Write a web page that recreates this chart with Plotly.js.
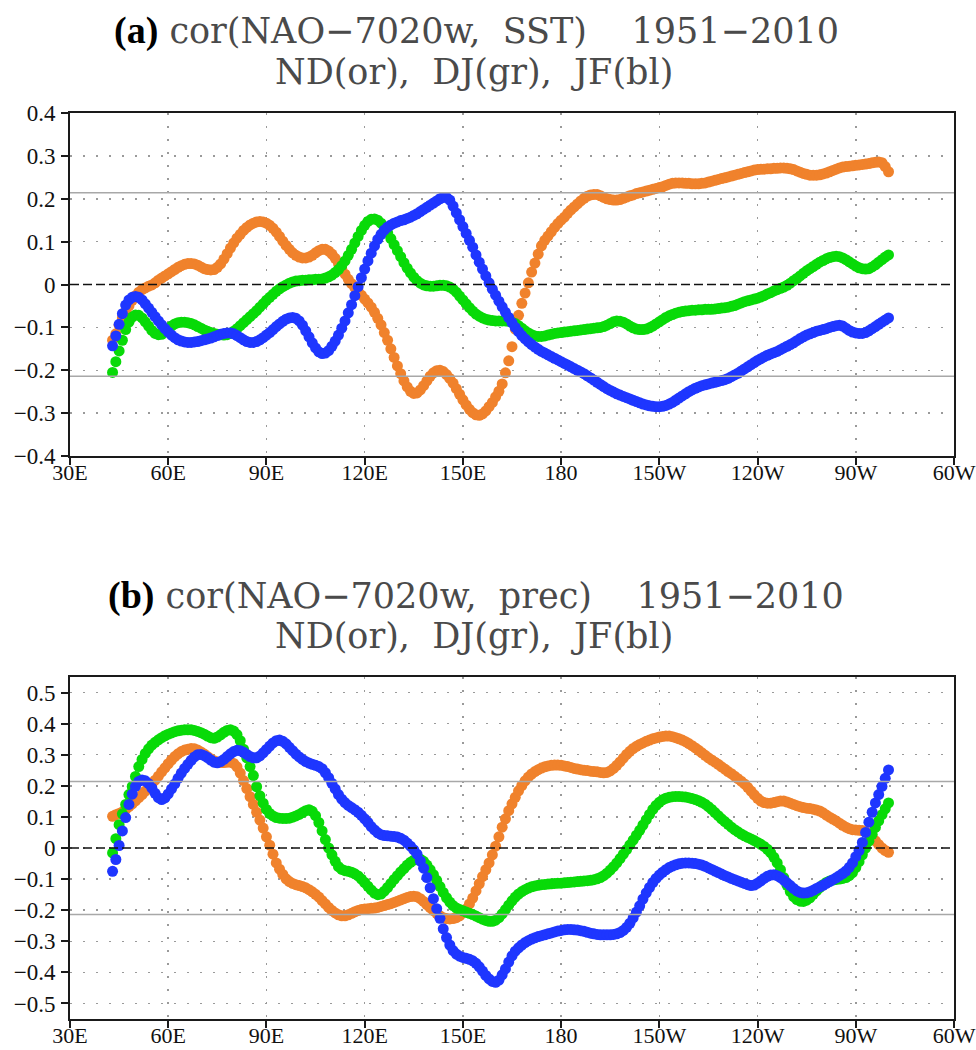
<!DOCTYPE html>
<html>
<head>
<meta charset="utf-8">
<script src="https://cdn.plot.ly/plotly-3.0.1.min.js"></script>
<style>
  html, body { margin: 0; padding: 0; background: #ffffff; }
  #chart { width: 976px; height: 1050px; }
</style>
</head>
<body>
<div id="chart"></div>
<script>
// Longitude grid along the equatorial band (degrees east, 1-degree step)
const lonFirst = 43;
const lonLast = 280;
const lon = [];
for (let v = lonFirst; v <= lonLast; v++) lon.push(v);

// Axis ticks
const lonTickVals = [30, 60, 90, 120, 150, 180, 210, 240, 270, 300];
const lonTickText = ['30E', '60E', '90E', '120E', '150E', '180', '150W', '120W', '90W', '60W'];
const sstTickVals = [-0.4, -0.3, -0.2, -0.1, 0, 0.1, 0.2, 0.3, 0.4];
const sstTickText = ['\u22120.4', '\u22120.3', '\u22120.2', '\u22120.1', '0', '0.1', '0.2', '0.3', '0.4'];
const precTickVals = [-0.5, -0.4, -0.3, -0.2, -0.1, 0, 0.1, 0.2, 0.3, 0.4, 0.5];
const precTickText = ['\u22120.5', '\u22120.4', '\u22120.3', '\u22120.2', '\u22120.1', '0', '0.1', '0.2', '0.3', '0.4', '0.5'];

// Significance threshold for the correlation (drawn as grey lines at +/-)
const sigLevel = 0.214;

// (a) correlation of NAO-7020w with SST, lon 43..280
const ndSst = [
  -0.130,-0.115,-0.095,-0.078,-0.063,-0.050,-0.037,-0.026,-0.018,-0.012,
  -0.008,-0.004,-0.001,0.004,0.010,0.015,0.020,0.025,0.030,0.035,
  0.040,0.044,0.047,0.049,0.049,0.048,0.045,0.041,0.037,0.035,
  0.034,0.035,0.040,0.048,0.059,0.072,0.085,0.097,0.108,0.117,
  0.126,0.133,0.139,0.143,0.146,0.147,0.146,0.143,0.138,0.131,
  0.122,0.112,0.101,0.091,0.082,0.074,0.068,0.064,0.062,0.062,
  0.064,0.068,0.074,0.079,0.082,0.082,0.078,0.071,0.061,0.049,
  0.036,0.024,0.012,0.002,-0.007,-0.016,-0.025,-0.034,-0.043,-0.053,
  -0.065,-0.079,-0.094,-0.112,-0.130,-0.150,-0.170,-0.190,-0.208,-0.225,
  -0.239,-0.249,-0.254,-0.253,-0.246,-0.236,-0.225,-0.214,-0.206,-0.201,
  -0.200,-0.203,-0.210,-0.219,-0.230,-0.243,-0.256,-0.269,-0.281,-0.291,
  -0.299,-0.304,-0.305,-0.302,-0.295,-0.285,-0.275,-0.262,-0.249,-0.232,
  -0.206,-0.178,-0.145,-0.104,-0.072,-0.044,-0.020,0.004,0.029,0.050,
  0.071,0.090,0.103,0.113,0.123,0.133,0.142,0.150,0.157,0.166,
  0.174,0.181,0.188,0.195,0.201,0.206,0.209,0.210,0.210,0.207,
  0.203,0.200,0.198,0.197,0.197,0.198,0.201,0.204,0.207,0.209,
  0.212,0.214,0.216,0.218,0.220,0.222,0.224,0.226,0.228,0.231,
  0.234,0.236,0.237,0.237,0.237,0.236,0.236,0.235,0.235,0.235,
  0.236,0.237,0.239,0.241,0.243,0.245,0.247,0.249,0.251,0.253,
  0.255,0.257,0.259,0.261,0.263,0.265,0.267,0.268,0.269,0.269,
  0.270,0.270,0.271,0.271,0.272,0.272,0.271,0.270,0.268,0.265,
  0.262,0.259,0.257,0.255,0.255,0.255,0.256,0.258,0.260,0.263,
  0.266,0.269,0.272,0.274,0.275,0.276,0.277,0.278,0.279,0.280,
  0.281,0.282,0.284,0.285,0.286,0.284,0.275,0.263
];
const djSst = [
  -0.205,-0.180,-0.155,-0.130,-0.105,-0.088,-0.076,-0.071,-0.072,-0.078,
  -0.087,-0.097,-0.107,-0.114,-0.117,-0.116,-0.111,-0.104,-0.097,-0.092,
  -0.089,-0.088,-0.088,-0.089,-0.091,-0.094,-0.098,-0.102,-0.106,-0.109,
  -0.112,-0.114,-0.116,-0.117,-0.118,-0.117,-0.114,-0.109,-0.103,-0.096,
  -0.089,-0.082,-0.075,-0.068,-0.061,-0.053,-0.045,-0.037,-0.030,-0.023,
  -0.016,-0.010,-0.005,-0.001,0.003,0.006,0.008,0.009,0.010,0.010,
  0.011,0.011,0.012,0.012,0.013,0.015,0.018,0.022,0.028,0.035,
  0.044,0.055,0.068,0.082,0.097,0.112,0.126,0.138,0.147,0.152,
  0.153,0.150,0.143,0.133,0.121,0.107,0.093,0.079,0.065,0.051,
  0.038,0.027,0.017,0.009,0.003,-0.001,-0.003,-0.004,-0.004,-0.003,
  -0.002,-0.002,-0.003,-0.006,-0.011,-0.018,-0.027,-0.036,-0.045,-0.054,
  -0.062,-0.069,-0.074,-0.078,-0.081,-0.083,-0.084,-0.085,-0.085,-0.085,
  -0.085,-0.086,-0.088,-0.091,-0.096,-0.102,-0.108,-0.113,-0.117,-0.120,
  -0.121,-0.121,-0.120,-0.118,-0.116,-0.114,-0.113,-0.112,-0.111,-0.110,
  -0.109,-0.108,-0.107,-0.106,-0.105,-0.104,-0.103,-0.102,-0.101,-0.100,
  -0.098,-0.095,-0.091,-0.087,-0.085,-0.086,-0.088,-0.092,-0.097,-0.101,
  -0.104,-0.105,-0.105,-0.104,-0.101,-0.097,-0.092,-0.087,-0.082,-0.077,
  -0.073,-0.070,-0.067,-0.065,-0.063,-0.062,-0.061,-0.060,-0.060,-0.059,
  -0.059,-0.058,-0.058,-0.058,-0.057,-0.056,-0.055,-0.054,-0.053,-0.051,
  -0.049,-0.046,-0.043,-0.040,-0.038,-0.036,-0.034,-0.032,-0.029,-0.026,
  -0.022,-0.019,-0.015,-0.012,-0.009,-0.006,-0.002,0.003,0.009,0.014,
  0.020,0.026,0.032,0.037,0.042,0.047,0.052,0.056,0.060,0.063,
  0.065,0.066,0.065,0.062,0.058,0.053,0.048,0.043,0.039,0.037,
  0.036,0.037,0.041,0.046,0.052,0.058,0.064,0.069
];
const jfSst = [
  -0.143,-0.120,-0.093,-0.068,-0.048,-0.036,-0.030,-0.028,-0.030,-0.036,
  -0.045,-0.055,-0.065,-0.075,-0.085,-0.094,-0.103,-0.111,-0.118,-0.124,
  -0.129,-0.132,-0.134,-0.135,-0.135,-0.134,-0.133,-0.131,-0.129,-0.127,
  -0.125,-0.122,-0.119,-0.116,-0.114,-0.113,-0.113,-0.115,-0.119,-0.124,
  -0.129,-0.133,-0.135,-0.135,-0.133,-0.129,-0.124,-0.118,-0.112,-0.105,
  -0.098,-0.092,-0.086,-0.081,-0.078,-0.077,-0.079,-0.085,-0.095,-0.108,
  -0.122,-0.136,-0.148,-0.157,-0.161,-0.160,-0.154,-0.144,-0.132,-0.118,
  -0.102,-0.085,-0.066,-0.047,-0.026,-0.005,0.016,0.036,0.055,0.073,
  0.090,0.105,0.117,0.127,0.134,0.139,0.143,0.146,0.149,0.151,
  0.154,0.157,0.161,0.165,0.170,0.175,0.180,0.185,0.190,0.195,
  0.200,0.203,0.203,0.197,0.183,0.167,0.151,0.135,0.119,0.103,
  0.087,0.069,0.052,0.036,0.020,0.004,-0.011,-0.025,-0.039,-0.052,
  -0.065,-0.077,-0.089,-0.100,-0.110,-0.119,-0.127,-0.134,-0.140,-0.146,
  -0.151,-0.156,-0.160,-0.164,-0.168,-0.172,-0.176,-0.180,-0.184,-0.188,
  -0.192,-0.196,-0.200,-0.204,-0.208,-0.213,-0.218,-0.223,-0.228,-0.233,
  -0.238,-0.243,-0.247,-0.251,-0.255,-0.258,-0.261,-0.264,-0.267,-0.270,
  -0.273,-0.276,-0.279,-0.281,-0.283,-0.284,-0.285,-0.285,-0.284,-0.282,
  -0.279,-0.275,-0.270,-0.265,-0.260,-0.255,-0.250,-0.246,-0.242,-0.239,
  -0.236,-0.234,-0.232,-0.230,-0.228,-0.226,-0.224,-0.222,-0.219,-0.215,
  -0.211,-0.207,-0.202,-0.197,-0.192,-0.187,-0.182,-0.177,-0.173,-0.169,
  -0.165,-0.162,-0.159,-0.156,-0.152,-0.148,-0.144,-0.140,-0.136,-0.131,
  -0.126,-0.122,-0.118,-0.115,-0.112,-0.109,-0.107,-0.105,-0.103,-0.100,
  -0.098,-0.096,-0.095,-0.097,-0.102,-0.107,-0.111,-0.113,-0.114,-0.114,
  -0.112,-0.108,-0.103,-0.098,-0.093,-0.088,-0.083,-0.078
];

// (b) correlation of NAO-7020w with precipitation, lon 43..280
const ndPrec = [
  0.102,0.107,0.111,0.116,0.124,0.133,0.142,0.152,0.162,0.172,
  0.183,0.194,0.205,0.218,0.231,0.245,0.258,0.271,0.283,0.294,
  0.303,0.310,0.315,0.318,0.320,0.319,0.315,0.309,0.302,0.294,
  0.287,0.281,0.277,0.275,0.275,0.276,0.276,0.272,0.261,0.241,
  0.217,0.191,0.165,0.140,0.115,0.090,0.064,0.036,0.009,-0.020,
  -0.048,-0.068,-0.085,-0.099,-0.108,-0.114,-0.118,-0.121,-0.124,-0.128,
  -0.134,-0.141,-0.149,-0.158,-0.169,-0.180,-0.191,-0.201,-0.209,-0.215,
  -0.218,-0.218,-0.215,-0.210,-0.205,-0.201,-0.198,-0.196,-0.195,-0.194,
  -0.193,-0.191,-0.188,-0.185,-0.182,-0.179,-0.175,-0.171,-0.167,-0.163,
  -0.159,-0.156,-0.155,-0.157,-0.163,-0.172,-0.182,-0.192,-0.201,-0.210,
  -0.218,-0.224,-0.227,-0.228,-0.227,-0.224,-0.218,-0.209,-0.196,-0.180,
  -0.161,-0.138,-0.115,-0.092,-0.070,-0.048,-0.022,0.006,0.036,0.067,
  0.094,0.120,0.142,0.163,0.184,0.201,0.216,0.228,0.238,0.246,
  0.252,0.257,0.261,0.264,0.266,0.267,0.267,0.266,0.264,0.262,
  0.259,0.256,0.254,0.252,0.250,0.249,0.247,0.246,0.245,0.243,
  0.242,0.243,0.248,0.256,0.266,0.277,0.289,0.301,0.311,0.320,
  0.327,0.333,0.338,0.343,0.347,0.351,0.354,0.357,0.359,0.360,
  0.360,0.358,0.355,0.351,0.347,0.342,0.336,0.329,0.322,0.314,
  0.306,0.298,0.290,0.283,0.276,0.269,0.261,0.254,0.246,0.239,
  0.231,0.223,0.215,0.206,0.195,0.183,0.171,0.160,0.151,0.146,
  0.144,0.144,0.146,0.149,0.151,0.151,0.148,0.144,0.140,0.136,
  0.133,0.130,0.128,0.127,0.125,0.122,0.119,0.113,0.106,0.099,
  0.093,0.087,0.080,0.073,0.067,0.062,0.059,0.058,0.057,0.056,
  0.052,0.045,0.035,0.023,0.011,0.000,-0.008,-0.014
];
const djPrec = [
  -0.016,0.030,0.075,0.110,0.140,0.172,0.198,0.230,0.262,0.285,
  0.304,0.319,0.331,0.340,0.348,0.355,0.361,0.366,0.370,0.374,
  0.377,0.379,0.380,0.380,0.380,0.378,0.375,0.371,0.366,0.360,
  0.355,0.353,0.357,0.364,0.372,0.378,0.380,0.376,0.365,0.345,
  0.318,0.290,0.262,0.233,0.197,0.168,0.144,0.124,0.111,0.103,
  0.098,0.096,0.095,0.095,0.096,0.099,0.103,0.108,0.114,0.120,
  0.123,0.118,0.104,0.082,0.055,0.027,0.000,-0.022,-0.043,-0.060,
  -0.069,-0.073,-0.075,-0.078,-0.083,-0.090,-0.100,-0.111,-0.123,-0.135,
  -0.145,-0.150,-0.148,-0.139,-0.127,-0.114,-0.101,-0.089,-0.077,-0.066,
  -0.055,-0.046,-0.039,-0.035,-0.036,-0.043,-0.055,-0.070,-0.086,-0.104,
  -0.124,-0.143,-0.160,-0.174,-0.185,-0.193,-0.198,-0.202,-0.206,-0.210,
  -0.214,-0.219,-0.224,-0.229,-0.233,-0.236,-0.236,-0.232,-0.224,-0.212,
  -0.198,-0.184,-0.170,-0.158,-0.148,-0.140,-0.134,-0.129,-0.125,-0.122,
  -0.120,-0.118,-0.117,-0.116,-0.115,-0.114,-0.113,-0.113,-0.112,-0.111,
  -0.110,-0.109,-0.108,-0.107,-0.106,-0.105,-0.104,-0.102,-0.099,-0.095,
  -0.089,-0.081,-0.071,-0.060,-0.048,-0.034,-0.020,-0.005,0.010,0.025,
  0.041,0.057,0.074,0.091,0.108,0.124,0.137,0.147,0.155,0.160,
  0.163,0.165,0.166,0.166,0.165,0.164,0.162,0.159,0.156,0.152,
  0.147,0.141,0.133,0.124,0.114,0.104,0.094,0.085,0.076,0.067,
  0.059,0.052,0.045,0.039,0.034,0.029,0.024,0.018,0.012,0.005,
  -0.004,-0.015,-0.030,-0.048,-0.070,-0.095,-0.120,-0.140,-0.156,-0.166,
  -0.171,-0.172,-0.168,-0.160,-0.149,-0.138,-0.127,-0.118,-0.111,-0.106,
  -0.103,-0.101,-0.100,-0.098,-0.095,-0.089,-0.079,-0.063,-0.044,-0.022,
  0.000,0.022,0.044,0.066,0.087,0.107,0.126,0.145
];
const jfPrec = [
  -0.075,-0.037,0.008,0.055,0.098,0.140,0.173,0.198,0.214,0.219,
  0.216,0.207,0.193,0.176,0.162,0.156,0.161,0.174,0.190,0.206,
  0.224,0.241,0.256,0.269,0.282,0.293,0.300,0.301,0.297,0.291,
  0.283,0.276,0.274,0.278,0.285,0.294,0.303,0.310,0.314,0.313,
  0.308,0.301,0.294,0.290,0.290,0.296,0.306,0.317,0.328,0.338,
  0.345,0.347,0.343,0.335,0.324,0.313,0.302,0.293,0.285,0.278,
  0.273,0.269,0.266,0.262,0.255,0.242,0.226,0.208,0.190,0.172,
  0.157,0.146,0.137,0.130,0.123,0.115,0.105,0.094,0.082,0.069,
  0.058,0.049,0.043,0.040,0.039,0.038,0.037,0.035,0.031,0.025,
  0.016,0.006,-0.006,-0.020,-0.042,-0.065,-0.095,-0.128,-0.163,-0.195,
  -0.226,-0.260,-0.288,-0.312,-0.330,-0.341,-0.348,-0.352,-0.355,-0.358,
  -0.363,-0.371,-0.382,-0.396,-0.410,-0.421,-0.429,-0.432,-0.425,-0.408,
  -0.389,-0.367,-0.347,-0.332,-0.321,-0.312,-0.304,-0.298,-0.293,-0.289,
  -0.285,-0.282,-0.279,-0.276,-0.273,-0.270,-0.267,-0.265,-0.263,-0.262,
  -0.262,-0.263,-0.264,-0.266,-0.268,-0.271,-0.274,-0.276,-0.278,-0.279,
  -0.279,-0.279,-0.279,-0.278,-0.276,-0.272,-0.265,-0.255,-0.242,-0.225,
  -0.206,-0.186,-0.164,-0.144,-0.127,-0.111,-0.098,-0.087,-0.078,-0.070,
  -0.063,-0.058,-0.054,-0.051,-0.049,-0.048,-0.048,-0.049,-0.050,-0.052,
  -0.055,-0.059,-0.064,-0.069,-0.074,-0.079,-0.084,-0.089,-0.093,-0.098,
  -0.102,-0.106,-0.110,-0.114,-0.118,-0.121,-0.119,-0.113,-0.106,-0.098,
  -0.091,-0.087,-0.086,-0.089,-0.095,-0.103,-0.112,-0.121,-0.130,-0.138,
  -0.143,-0.145,-0.144,-0.141,-0.136,-0.130,-0.125,-0.120,-0.114,-0.108,
  -0.102,-0.096,-0.089,-0.082,-0.074,-0.062,-0.048,-0.028,-0.008,0.018,
  0.050,0.083,0.115,0.145,0.172,0.198,0.224,0.251
];

// Season colours: ND orange, DJ green, JF blue
const colorND = '#F0822C';
const colorDJ = '#08DA08';
const colorJF = '#1E36FF';

const W = 976, H = 1050;
const plotLeft = 70, plotRight = 954;
const panelA = { top: 113, bottom: 456 };
const panelB = { top: 677, bottom: 1019 };
const toPaperY = px => 1 - px / H;

function dotTrace(values, color, xa, ya) {
  return {
    type: 'scatter', mode: 'markers',
    x: lon, y: values, xaxis: xa, yaxis: ya,
    marker: { size: 11, color: color, line: { width: 0 } },
    hoverinfo: 'skip', showlegend: false
  };
}

const traces = [
  dotTrace(ndSst, colorND, 'x', 'y'),
  dotTrace(djSst, colorDJ, 'x', 'y'),
  dotTrace(jfSst, colorJF, 'x', 'y'),
  dotTrace(ndPrec, colorND, 'x2', 'y2'),
  dotTrace(djPrec, colorDJ, 'x2', 'y2'),
  dotTrace(jfPrec, colorJF, 'x2', 'y2')
];

const tickFont = { family: 'Liberation Serif', size: 23, color: '#111' };
const frame = {
  showline: true, linewidth: 2, linecolor: '#1a1a1a', mirror: true,
  ticks: 'outside', ticklen: 7, tickwidth: 2, tickcolor: '#1a1a1a',
  showgrid: true, gridcolor: '#9a9a9a', gridwidth: 1.5, griddash: '2px,11px',
  zeroline: false, tickfont: tickFont, fixedrange: true,
  ticklabeloverflow: 'allow'
};

function lonAxis(anchor) {
  return Object.assign({}, frame, {
    domain: [plotLeft / W, plotRight / W], range: [30, 300], anchor: anchor,
    tickmode: 'array', tickvals: lonTickVals, ticktext: lonTickText,
    tickfont: { family: 'Liberation Serif', size: 22, color: '#111' },
    ticklabelstandoff: -11
  });
}

function corrAxis(anchor, panel, range, vals, text) {
  return Object.assign({}, frame, {
    domain: [toPaperY(panel.bottom), toPaperY(panel.top)], range: range, anchor: anchor,
    tickmode: 'array', tickvals: vals, ticktext: text, ticklabelstandoff: 1
  });
}

function refLines(xr, yr) {
  const base = { type: 'line', xref: xr, yref: yr, x0: 30, x1: 300, layer: 'above' };
  return [
    Object.assign({}, base, { y0: sigLevel, y1: sigLevel, line: { color: '#a8a8a8', width: 1.6 } }),
    Object.assign({}, base, { y0: -sigLevel, y1: -sigLevel, line: { color: '#a8a8a8', width: 1.6 } }),
    Object.assign({}, base, { y0: 0, y1: 0, line: { color: '#111', width: 1.6, dash: '9px,4px' } })
  ];
}

const titleFont = { family: 'DejaVu Serif', size: 35, color: '#4a4a4a' };
const tag = s => '<span style="font-family:Liberation Serif;font-size:38px;color:#000"><b>' + s + '</b></span>';
const gap = '\u00a0';
function titleLines(letter, field, centerY1, centerY2) {
  return [
    {
      xref: 'paper', yref: 'paper', x: 476 / W, y: toPaperY(centerY1),
      xanchor: 'center', yanchor: 'middle', showarrow: false, font: titleFont,
      text: tag('(' + letter + ')') + ' cor(NAO\u22127020w,' + gap + ' ' + field + ')' + gap.repeat(4) + '1951\u22122010'
    },
    {
      xref: 'paper', yref: 'paper', x: 474 / W, y: toPaperY(centerY2),
      xanchor: 'center', yanchor: 'middle', showarrow: false, font: titleFont,
      text: 'ND(or),' + gap + ' DJ(gr),' + gap + ' JF(bl)'
    }
  ];
}

const layout = {
  width: W, height: H,
  margin: { l: 0, r: 0, t: 0, b: 0 },
  paper_bgcolor: '#ffffff', plot_bgcolor: '#ffffff',
  showlegend: false,
  xaxis: lonAxis('y'),
  yaxis: corrAxis('x', panelA, [-0.4, 0.4], sstTickVals, sstTickText),
  xaxis2: lonAxis('y2'),
  yaxis2: corrAxis('x2', panelB, [-0.55, 0.55], precTickVals, precTickText),
  shapes: refLines('x', 'y').concat(refLines('x2', 'y2')),
  annotations: titleLines('a', 'SST', 31, 72).concat(titleLines('b', 'prec', 595, 636))
};

Plotly.newPlot('chart', traces, layout, { staticPlot: true, displayModeBar: false });
</script>
</body>
</html>
